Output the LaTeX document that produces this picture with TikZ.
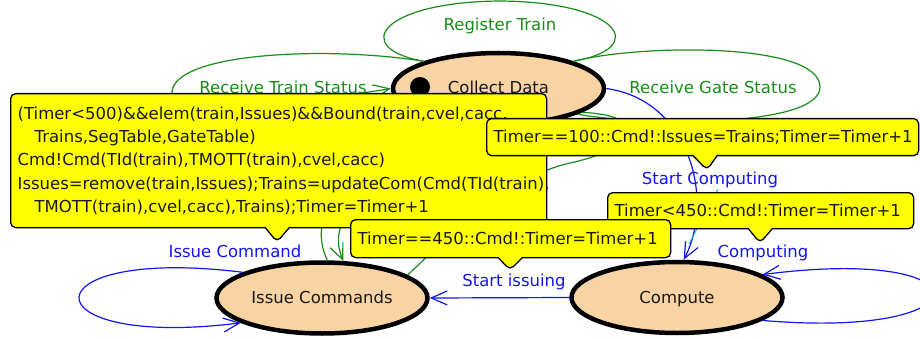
\documentclass[tikz,border=0pt]{standalone}
\usepackage{fontspec}
\setmainfont{DejaVu Sans}
\usetikzlibrary{shapes.geometric,shapes.callouts,arrows.meta}
\definecolor{peach}{RGB}{248,211,163}
\definecolor{trgreen}{RGB}{25,140,25}
\definecolor{trblue}{RGB}{20,20,245}
\definecolor{ink}{RGB}{25,25,25}
\definecolor{note}{RGB}{255,255,0}
\begin{document}
\begin{tikzpicture}[x=1pt,y=-1pt,font=\fontsize{16.5}{23.3}\selectfont,
  phase/.style={ellipse,draw=black,line width=4.5pt,fill=peach,text=ink,minimum width=211pt,minimum height=71pt,
    inner sep=0pt,text height=12pt,text depth=1pt},
  gtr/.style={draw=trgreen,line width=1.2pt},
  btr/.style={draw=trblue,line width=1.2pt},
  glbl/.style={text=trgreen,inner sep=1pt},
  blbl/.style={text=trblue,inner sep=1pt},
  guard/.style={rectangle callout,draw=black,line width=1.3pt,fill=note,rounded corners=5pt,text=ink,
    anchor=north west,align=left,inner xsep=7pt,inner ysep=0pt,callout pointer width=24pt},
  >={Straight Barb[length=16pt,width=14pt]}]
\useasboundingbox (0,0) rectangle (920,339);

% states
\node[phase] (cd) at (498.5,88.5) {Collect Data};
\node[phase] (ic) at (322,298) {Issue Commands};
\node[phase] (cp) at (677,297.5) {Compute};
\node[circle,fill=black,minimum size=20pt,inner sep=0pt] (init) at (420,87) {};

% green transitions round Collect Data
\draw[gtr] (cd.160) .. controls (350,48) and (380,2) .. (500,1) .. controls (620,2) and (650,48) .. (cd.20);
\draw[gtr,->] (cd.160) .. controls (330,46) and (175,52) .. (172,92) .. controls (170,112) and (340,98) .. (cd.west);
\draw[gtr] (cd.20) .. controls (640,44) and (820,42) .. (820,87) .. controls (820,128) and (640,126) .. (cd.-18);
\draw[gtr,->] (cd.-115) .. controls (430,170) and (315,195) .. (ic.60);
\draw[gtr,->] (ic.82) .. controls (298,197) and (380,150) .. (cd.-135);
\draw[gtr] (ic.15) .. controls (450,235) and (510,176) .. (570,163) .. controls (640,148) and (650,115) .. (cd.-16);

% blue transitions
\draw[btr,->] (cd.0) .. controls (690,100) and (715,200) .. (cp.80);
\draw[btr,->] (cp.west) -- (ic.east);
\draw[btr,->] (ic.162) .. controls (25,245) and (25,350) .. (ic.197);
\draw[btr,->] (cp.-15) .. controls (990,340) and (990,245) .. (cp.15);

% labels
\node[glbl] (lrt) at (500,26) {Register Train};
\node[glbl] (lrts) at (283,87) {Receive Train Status};
\node[glbl] (lrgs) at (713,87) {Receive Gate Status};
\node[blbl] (lsc) at (710,180) {Start Computing};
\node[blbl] (lic) at (235,251) {Issue Command};
\node[blbl] (lcp) at (763,253) {Computing};
\node[blbl] (lsi) at (514,282) {Start issuing};
\coordinate (scpin) at (689,244);
\draw[cyan,line width=0.8pt] ([xshift=8pt]lsc.south) -- (scpin);

% guards and actions
\node[guard,callout absolute pointer={(277,242)},minimum width=536pt,minimum height=134pt,text width=522pt] (gissue) at (10,93)
  {(Timer<500)\&\&elem(train,Issues)\&\&Bound(train,cvel,cacc,\\
   \hspace*{17pt}Trains,SegTable,GateTable)\\
   Cmd!Cmd(TId(train),TMOTT(train),cvel,cacc)\\
   Issues=remove(train,Issues);Trains=updateCom(Cmd(TId(train),\\
   \hspace*{17pt}TMOTT(train),cvel,cacc),Trains);Timer=Timer+1};
\node[guard,callout absolute pointer={(707,170)},minimum width=432pt,minimum height=37pt,text width=418pt] (gstart) at (486,118)
  {Timer==100::Cmd!:Issues=Trains;Timer=Timer+1};
\node[guard,callout absolute pointer={(760,243)},minimum width=306pt,minimum height=36pt,text width=292pt] (gcomp) at (607,192)
  {Timer<450::Cmd!:Timer=Timer+1};
\node[guard,callout absolute pointer={(510,270)},minimum width=320pt,minimum height=38pt,text width=306pt] (gissuing) at (350,219)
  {Timer==450::Cmd!:Timer=Timer+1};
\end{tikzpicture}
\end{document}
